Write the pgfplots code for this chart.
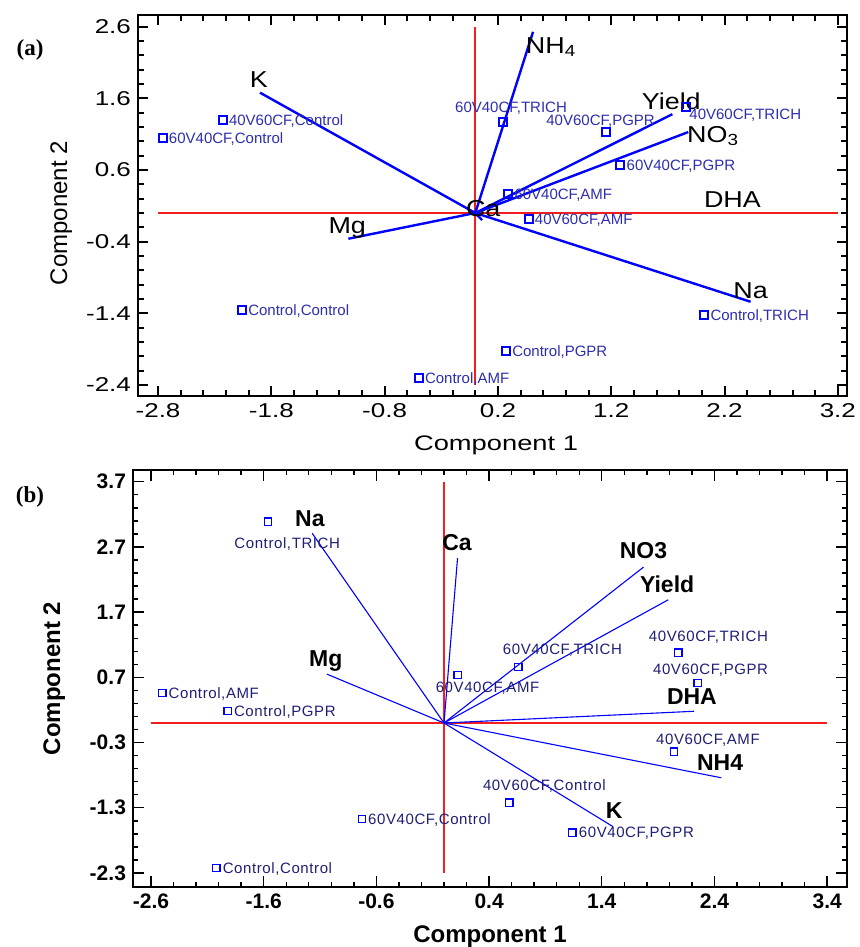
\documentclass[border=0pt]{standalone}
\usepackage{graphicx}
\usepackage{pgfplots}
\pgfplotsset{compat=1.18}
\usepackage{fontspec}
\setmainfont{Liberation Sans}
\newfontfamily\serifb{Liberation Serif}
\newfontfamily\spaced[LetterSpace=4.0]{Liberation Sans}
\definecolor{vblue}{RGB}{0,0,255}
\definecolor{rred}{RGB}{245,30,30}
\definecolor{labA}{RGB}{45,45,175}
\definecolor{labB}{RGB}{30,30,120}
\newcommand{\sx}[2]{\scalebox{#1}[1]{#2}}
% panel (a) helpers
\newcommand{\ptA}[4]{% x, y, node options, label
  \addplot[only marks, mark=square, mark size=2pt, color=vblue, mark options={line width=1pt, solid}] coordinates {(#1,#2)};
  \node[#3, text=labA, font=\fontsize{7.5}{9}\selectfont, inner sep=0pt] at (axis cs:#1,#2) {#4};}
\newcommand{\vecA}[5]{% x, y, label x, label y, text
  \addplot[vblue, line width=1.2pt] coordinates {(0,0) (#1,#2)};
  \node[anchor=base, font=\fontsize{11.5}{13}\selectfont, inner sep=0pt] at (axis cs:#3,#4) {\sx{1.17}{#5}};}
% panel (b) helpers
\newcommand{\ptB}[4]{%
  \addplot[only marks, mark=square, mark size=1.8pt, color=vblue, mark options={line width=0.6pt, solid}] coordinates {(#1,#2)};
  \node[#3, text=labB, font=\spaced\fontsize{7.5}{9}\selectfont, inner sep=0pt] at (axis cs:#1,#2) {#4};}
\newcommand{\vecB}[5]{%
  \addplot[vblue, line width=0.55pt] coordinates {(0,0) (#1,#2)};
  \node[anchor=base, font=\bfseries\fontsize{11.5}{13}\selectfont, inner sep=0pt] at (axis cs:#3,#4) {#5};}
\begin{document}
\begin{tikzpicture}
\path[use as bounding box] (0,0) rectangle (429.5pt,473.5pt);
\node[font=\serifb\bfseries\fontsize{11.5}{13}\selectfont] at (15pt,448.5pt) {(a)};
\node[font=\serifb\bfseries\fontsize{11.5}{13}\selectfont] at (15pt,225pt) {(b)};

% ---------------- panel (a)
\begin{axis}[
  at={(69pt,275.5pt)}, anchor=south west,
  scale only axis, width=354.5pt, height=190.5pt,
  xmin=-2.977, xmax=3.281, ymin=-2.556, ymax=2.765,
  xtick={-2.8,-1.8,-0.8,0.2,1.2,2.2,3.2},
  ytick={-2.4,-1.4,-0.4,0.6,1.6,2.6},
  minor x tick num=4, minor y tick num=4,
  axis line style={line width=1.3pt},
  major tick length=5pt, minor tick length=3pt,
  every tick/.style={black, line width=1pt},
  xticklabel={\sx{1.3}{\pgfmathprintnumber{\tick}}},
  yticklabel={\sx{1.3}{\pgfmathprintnumber{\tick}}},
  /pgf/number format/.cd, fixed, fixed zerofill, precision=1, assume math mode=true, /pgfplots/.cd,
  ticklabel style={font=\fontsize{10}{12}\selectfont},
  xlabel={\sx{1.3}{Component 1}},
  ylabel={Component 2},
  xlabel style={at={(axis description cs:0.505,-0.142)}, anchor=base, font=\fontsize{10.5}{12}\selectfont},
  ylabel style={at={(axis description cs:-0.100,0.48)}, anchor=base, font=\fontsize{12}{14}\selectfont},
  clip=false,
]
\addplot[vblue, line width=1.2pt] coordinates {(0,0) (2.0,0)};
\addplot[rred, line width=1pt] coordinates {(-2.8,0) (3.2,0)};
\addplot[rred, line width=1pt] coordinates {(0,-2.4) (0,2.6)};
\node[anchor=base, font=\fontsize{11.5}{13}\selectfont, inner sep=0pt] at (axis cs:2.27,0.07) {\sx{1.17}{DHA}};
\vecA{-1.90}{1.68}{-1.91}{1.75}{K}
\vecA{0.51}{2.53}{0.67}{2.23}{NH\textsubscript{4}}
\vecA{1.74}{1.38}{1.73}{1.45}{Yield}
\vecA{1.88}{1.13}{2.10}{0.99}{NO\textsubscript{3}}
\vecA{2.43}{-1.24}{2.43}{-1.19}{Na}
\vecA{-1.12}{-0.36}{-1.13}{-0.29}{Mg}
\vecA{0.06}{-0.10}{0.07}{-0.05}{Ca}
\ptA{-2.23}{1.30}{anchor=base west, xshift=3pt, yshift=-2.7pt}{40V60CF,Control}
\ptA{-2.76}{1.05}{anchor=base west, xshift=3pt, yshift=-2.7pt}{60V40CF,Control}
\ptA{0.245}{1.27}{anchor=base, xshift=4pt, yshift=5pt}{60V40CF,TRICH}
\ptA{1.15}{1.13}{anchor=base, xshift=-2.5pt, yshift=3.5pt}{40V60CF,PGPR}
\ptA{1.86}{1.48}{anchor=base west, xshift=1.5pt, yshift=-6.5pt}{40V60CF,TRICH}
\ptA{1.28}{0.67}{anchor=base west, xshift=3pt, yshift=-2.7pt}{60V40CF,PGPR}
\ptA{0.29}{0.27}{anchor=base west, xshift=3pt, yshift=-2.7pt}{60V40CF,AMF}
\ptA{0.47}{-0.08}{anchor=base west, xshift=3pt, yshift=-2.7pt}{40V60CF,AMF}
\ptA{-2.06}{-1.35}{anchor=base west, xshift=3pt, yshift=-2.7pt}{Control,Control}
\ptA{-0.50}{-2.30}{anchor=base west, xshift=3pt, yshift=-2.7pt}{Control,AMF}
\ptA{0.27}{-1.93}{anchor=base west, xshift=3pt, yshift=-2.7pt}{Control,PGPR}
\ptA{2.02}{-1.42}{anchor=base west, xshift=3pt, yshift=-2.7pt}{Control,TRICH}
\end{axis}

% ---------------- panel (b)
\begin{axis}[
  at={(66.5pt,30pt)}, anchor=south west,
  scale only axis, width=357pt, height=208.5pt,
  xmin=-2.76, xmax=3.576, ymin=-2.515, ymax=3.88,
  xtick={-2.6,-1.6,-0.6,0.4,1.4,2.4,3.4},
  ytick={-2.3,-1.3,-0.3,0.7,1.7,2.7,3.7},
  minor x tick num=4, minor y tick num=4,
  axis line style={line width=1pt},
  major tick length=5.5pt, minor tick length=2.3pt,
  every tick/.style={black, line width=0.7pt},
  xticklabel={\pgfmathprintnumber{\tick}},
  yticklabel={\pgfmathprintnumber{\tick}},
  /pgf/number format/.cd, fixed, fixed zerofill, precision=1, assume math mode=true, /pgfplots/.cd,
  ticklabel style={font=\bfseries\fontsize{10.5}{12}\selectfont},
  xlabel={Component 1},
  ylabel={Component 2},
  xlabel style={at={(axis description cs:0.5,-0.134)}, anchor=base, font=\bfseries\fontsize{12}{14}\selectfont},
  ylabel style={at={(axis description cs:-0.102,0.5)}, anchor=base, font=\bfseries\fontsize{12}{14}\selectfont},
  clip=false,
]
\addplot[rred, line width=0.6pt] coordinates {(-2.6,0) (3.4,0)};
\addplot[rred, line width=0.6pt] coordinates {(0,-2.3) (0,3.7)};
\vecB{-1.17}{2.91}{-1.19}{3.01}{Na}
\vecB{-1.04}{0.75}{-1.05}{0.86}{Mg}
\vecB{0.12}{2.53}{0.115}{2.64}{Ca}
\vecB{1.77}{2.39}{1.77}{2.52}{NO3}
\vecB{1.99}{1.89}{1.98}{2.00}{Yield}
\vecB{2.22}{0.18}{2.20}{0.28}{DHA}
\vecB{2.46}{-0.84}{2.45}{-0.73}{NH4}
\vecB{1.50}{-1.59}{1.51}{-1.47}{K}
\ptB{-1.56}{3.09}{anchor=base, xshift=9.5pt, yshift=-13.5pt}{Control,TRICH}
\ptB{-2.50}{0.46}{anchor=base west, xshift=3pt, yshift=-2.7pt}{Control,AMF}
\ptB{-1.92}{0.18}{anchor=base west, xshift=3pt, yshift=-2.7pt}{Control,PGPR}
\ptB{-2.02}{-2.22}{anchor=base west, xshift=3pt, yshift=-2.7pt}{Control,Control}
\ptB{-0.73}{-1.47}{anchor=base west, xshift=3pt, yshift=-2.7pt}{60V40CF,Control}
\ptB{0.12}{0.74}{anchor=base, xshift=15pt, yshift=-9pt}{60V40CF,AMF}
\ptB{0.66}{0.86}{anchor=base, xshift=22pt, yshift=6pt}{60V40CF,TRICH}
\ptB{2.08}{1.08}{anchor=base, xshift=15pt, yshift=5.5pt}{40V60CF,TRICH}
\ptB{2.25}{0.61}{anchor=base, xshift=6.5pt, yshift=4.5pt}{40V60CF,PGPR}
\ptB{2.04}{-0.44}{anchor=base, xshift=17pt, yshift=3.5pt}{40V60CF,AMF}
\ptB{0.58}{-1.22}{anchor=base, xshift=17.5pt, yshift=6pt}{40V60CF,Control}
\ptB{1.14}{-1.68}{anchor=base west, xshift=3pt, yshift=-2.7pt}{60V40CF,PGPR}
\end{axis}
\end{tikzpicture}
\end{document}
